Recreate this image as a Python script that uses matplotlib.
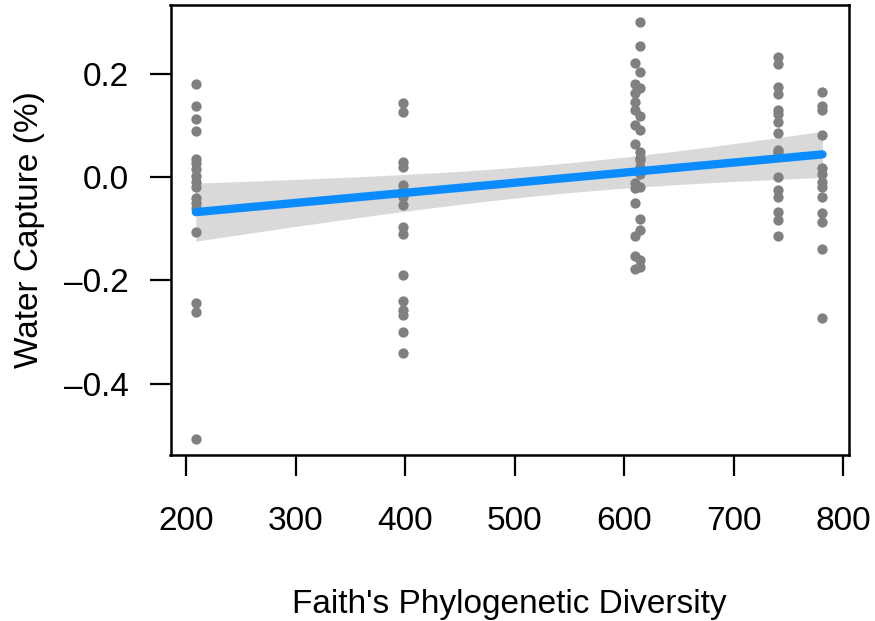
import numpy as np
import matplotlib.pyplot as plt
from matplotlib.ticker import FuncFormatter

plt.rcParams['font.family'] = ['Liberation Sans', 'DejaVu Sans']

# Faith's PD groups and their water capture values
pd_209 = [0.180, 0.138, 0.112, 0.089, 0.035, 0.028, 0.015, 0.003, -0.010, -0.019,
          -0.041, -0.050, -0.060, -0.106, -0.243, -0.261, -0.507]
pd_398 = [0.143, 0.126, 0.030, 0.019, -0.015, -0.025, -0.032, -0.038, -0.054,
          -0.096, -0.110, -0.190, -0.239, -0.257, -0.267, -0.299, -0.341]
pd_610 = [0.221, 0.181, 0.163, 0.146, 0.131, 0.101, 0.065, -0.012, -0.020,
          -0.050, -0.114, -0.153, -0.177]
pd_614 = [0.301, 0.254, 0.204, 0.172, 0.118, 0.091, 0.049, 0.037, 0.033, 0.020,
          0.007, -0.019, -0.081, -0.103, -0.161, -0.174]
pd_740 = [0.233, 0.220, 0.175, 0.161, 0.130, 0.122, 0.107, 0.086, 0.052, 0.049,
          0.001, -0.024, -0.038, -0.067, -0.082, -0.114]
pd_781 = [0.165, 0.138, 0.130, 0.081, 0.017, 0.007, -0.009, -0.019, -0.038,
          -0.070, -0.087, -0.139, -0.272]

groups = {209: pd_209, 398: pd_398, 610: pd_610, 614: pd_614, 740: pd_740, 781: pd_781}

x = np.concatenate([[k] * len(v) for k, v in groups.items()]).astype(float)
y = np.concatenate([v for v in groups.values()])

# linear fit with 95% confidence band
n = len(x)
b1, b0 = np.polyfit(x, y, 1)
resid = y - (b0 + b1 * x)
s = np.sqrt(np.sum(resid ** 2) / (n - 2))
xs = np.linspace(x.min(), x.max(), 100)
ys = b0 + b1 * xs
se = s * np.sqrt(1 / n + (xs - x.mean()) ** 2 / np.sum((x - x.mean()) ** 2))
t = 1.96
lo, hi = ys - t * se, ys + t * se

fig = plt.figure(figsize=(8.75, 6.21), dpi=100)
ax = fig.add_axes([170.5 / 875, 1 - 455 / 621, (849 - 170.5) / 875, (455 - 4.7) / 621])

ax.fill_between(xs, lo, hi, color='#D9D9D9', lw=0, zorder=1)
ax.scatter(x, y, s=55, color='#808080', lw=0, zorder=2)
ax.plot(xs, ys, color='#0A8CFF', lw=6, solid_capstyle='round', zorder=3)

ax.set_xlim(185.9, 805.2)
ax.set_ylim(-0.538, 0.334)
ax.set_xticks([200, 300, 400, 500, 600, 700, 800])
ax.set_yticks([-0.4, -0.2, 0.0, 0.2])
ax.yaxis.set_major_formatter(FuncFormatter(lambda v, p: f'{v:.1f}'.replace('-', '\u2013')))
ax.tick_params(labelsize=24, length=15, width=1.6)
ax.tick_params(axis='x', pad=22)
ax.tick_params(axis='y', pad=15)
for sp in ax.spines.values():
    sp.set_linewidth(1.8)

ax.set_xlabel("Faith's Phylogenetic Diversity", fontsize=24, labelpad=37)
ax.set_ylabel('Water Capture (%)', fontsize=24, labelpad=14)

fig.savefig('out.png', dpi=100)
